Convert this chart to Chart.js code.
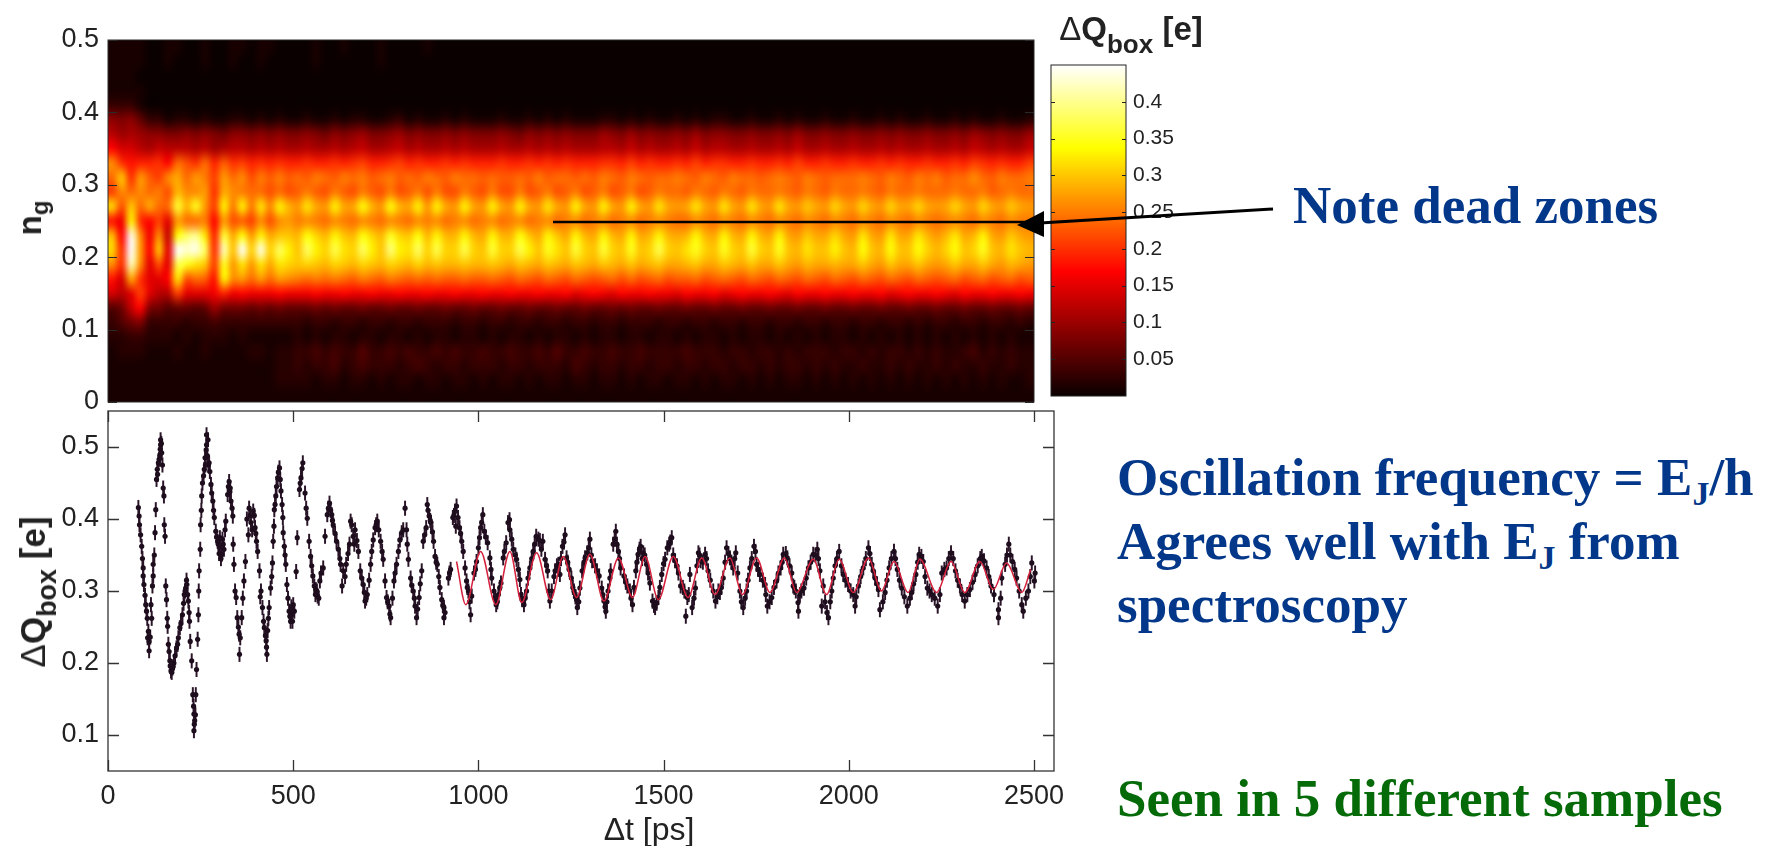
<!DOCTYPE html>
<html>
<head>
<meta charset="utf-8">
<title>Charge oscillations</title>
<script src="https://cdn.jsdelivr.net/npm/chart.js@4/dist/chart.umd.min.js"></script>
<style>
    body { margin: 0; background: #fff; width: 1770px; height: 846px; overflow: hidden; position: relative; }
    canvas { position: absolute; display: block; }
    svg { position: absolute; left: 0; top: 0; }
    .note { position: absolute; font: bold 53px/1 "Liberation Serif", serif; white-space: nowrap; color: #03378a; }
    .note sub { font-size: 64%; line-height: 0; vertical-align: -0.3em; }
    .green { color: #056a08; }
    .axisLabel { position: absolute; font-family: "Liberation Sans", sans-serif; color: #222; white-space: nowrap; transform: translate(-50%, -50%); }
    .axisLabel sub { line-height: 0; }
    .up { transform: translate(-50%, -50%) rotate(-90deg); }
</style>
</head>
<body>
<canvas id="heatChart" width="1040" height="432" style="left:0;top:0"></canvas>
<canvas id="barChart" width="170" height="379" style="left:1041px;top:41px"></canvas>
<canvas id="traceChart" width="1090" height="465" style="left:0;top:381px"></canvas>

<div class="axisLabel up" style="left:30px;top:218px;font-weight:bold;font-size:33px">n<sub style="font-size:24px;vertical-align:-0.3em">g</sub></div>
<div class="axisLabel up" style="left:33px;top:592px;font-size:35px;font-weight:bold"><span style="font-weight:normal">Δ</span>Q<sub style="font-size:27px;vertical-align:-0.4em">box</sub> [e]</div>
<div class="axisLabel" style="left:649px;top:829px;font-size:32px">Δt [ps]</div>
<div class="axisLabel" style="left:1131px;top:29px;font-size:33px;font-weight:bold"><span style="font-weight:normal">Δ</span>Q<sub style="font-size:26px;vertical-align:-0.5em">box</sub> [e]</div>

<div class="note" style="left:1293px;top:179px">Note dead zones</div>
<div class="note" style="left:1117px;top:451px">Oscillation frequency = E<sub>J</sub>/h</div>
<div class="note" style="left:1117px;top:515px">Agrees well with E<sub>J</sub> from</div>
<div class="note" style="left:1117px;top:578px">spectroscopy</div>
<div class="note green" style="left:1117px;top:772px">Seen in 5 different samples</div>

<svg width="1770" height="846">
    <line x1="553" y1="222" x2="1030" y2="222" stroke="#000" stroke-width="2.6"/>
    <line x1="1273" y1="209" x2="1040" y2="223" stroke="#000" stroke-width="3"/>
    <polygon points="1017,225 1044,211 1044,237" fill="#000"/>
</svg>

<script>
// Heatmap axes
const heatColumnTimes = [12.5,37.5,62.5,87.5,112.5,137.5,162.5,187.5,212.5,237.5,262.5,287.5,312.5,337.5,362.5,387.5,412.5,437.5,462.5,487.5,
    512.5,537.5,562.5,587.5,612.5,637.5,662.5,687.5,712.5,737.5,762.5,787.5,812.5,837.5,862.5,887.5,912.5,937.5,962.5,987.5,
    1012.5,1037.5,1062.5,1087.5,1112.5,1137.5,1162.5,1187.5,1212.5,1237.5,1262.5,1287.5,1312.5,1337.5,1362.5,1387.5,1412.5,1437.5,1462.5,1487.5,
    1512.5,1537.5,1562.5,1587.5,1612.5,1637.5,1662.5,1687.5,1712.5,1737.5,1762.5,1787.5,1812.5,1837.5,1862.5,1887.5,1912.5,1937.5,1962.5,1987.5,
    2012.5,2037.5,2062.5,2087.5,2112.5,2137.5,2162.5,2187.5,2212.5,2237.5,2262.5,2287.5,2312.5,2337.5,2362.5,2387.5,2412.5,2437.5,2462.5,2487.5];
const heatRowGates = [0.49,0.47,0.45,0.43,0.41,0.39,0.37,0.35,0.33,0.31,0.29,0.27,0.25,0.23,0.21,0.19,0.17,0.15,0.13,0.11,0.09,0.07,0.05,0.03,0.01];

// Heatmap values in units of 0.01 e, one list per row from top to bottom
const heatRows = [
[1,1,1,1,0,0,1,1,0,0,1,0,0,1,1,0,1,1,0,0, 0,0,1,0,0,1,0,0,0,1,0,0,0,0,1,0,0,0,0,0, 0,0,0,0,0,0,0,0,0,0,0,0,0,0,0,0,0,0,0,0, 0,0,0,0,0,0,0,0,0,0,0,0,0,0,0,0,0,0,0,0, 0,0,0,0,0,0,0,0,0,0,0,0,0,0,0,0,0,0,0,0],
[1,1,1,1,0,0,1,0,0,0,1,0,0,1,0,0,1,0,0,0, 0,0,1,0,0,0,0,0,0,1,0,0,0,0,0,0,0,0,0,0, 0,0,0,0,0,0,0,0,0,0,0,0,0,0,0,0,0,0,0,0, 0,0,0,0,0,0,0,0,0,0,0,0,0,0,0,0,0,0,0,0, 0,0,0,0,0,0,0,0,0,0,0,0,0,0,0,0,0,0,0,0],
[1,1,1,0,0,0,0,0,0,0,0,0,0,0,0,0,0,0,0,0, 0,0,0,0,0,0,0,0,0,0,0,0,0,0,0,0,0,0,0,0, 0,0,0,0,0,0,0,0,0,0,0,0,0,0,0,0,0,0,0,0, 0,0,0,0,0,0,0,0,0,0,0,0,0,0,0,0,0,0,0,0, 0,0,0,0,0,0,0,0,0,0,0,0,0,0,0,0,0,0,0,0],
[1,1,1,1,0,0,0,0,0,0,0,0,0,0,0,0,0,0,0,0, 0,0,0,0,0,0,0,0,0,0,0,0,0,0,0,0,0,0,0,0, 0,0,0,0,0,0,0,0,0,0,0,0,0,0,0,0,0,0,0,0, 0,0,0,0,0,0,0,0,0,0,0,0,0,0,0,0,0,0,0,0, 0,0,0,0,0,0,0,0,0,0,0,0,0,0,0,0,0,0,0,0],
[3,3,3,1,0,0,0,0,0,0,0,0,0,0,0,0,0,0,0,0, 0,0,0,0,0,0,0,0,0,0,0,0,0,0,0,0,0,0,0,0, 0,0,0,0,0,0,0,0,0,0,0,0,0,0,0,0,0,0,0,0, 0,0,0,0,0,0,0,0,0,0,0,0,0,0,0,0,0,0,0,0, 0,0,0,0,0,0,0,0,0,0,0,0,0,0,0,0,0,0,0,0],
[9,8,9,6,3,3,1,2,2,1,2,1,1,2,2,1,2,1,2,1, 1,2,1,1,2,1,2,2,1,1,2,3,1,2,1,1,2,1,2,1, 1,1,2,1,1,2,1,2,1,2,1,1,1,2,2,1,2,1,2,1, 1,2,1,2,1,2,2,1,1,2,1,1,2,1,2,1,1,2,1,1, 2,1,1,2,1,2,1,1,2,1,1,2,1,2,1,1,2,1,1,2],
[12,10,11,10,9,9,8,8,9,8,9,8,7,9,9,8,9,8,9,8, 8,9,8,7,9,8,9,10,8,8,9,10,8,9,8,8,9,8,9,8, 8,8,9,8,7,9,8,9,8,9,8,8,8,10,9,8,10,8,9,8, 8,9,8,10,8,9,9,8,8,9,8,8,9,8,10,8,8,9,8,8, 9,8,8,9,8,9,8,8,9,8,8,9,8,10,9,8,9,8,8,10],
[17,14,14,12,11,13,12,12,12,11,12,10,11,12,12,11,12,11,12,11, 11,12,11,11,12,11,12,13,11,11,12,13,11,12,11,11,12,11,12,11, 11,11,12,11,11,12,11,12,11,12,11,11,11,12,12,11,13,11,12,11, 11,12,11,13,11,12,12,11,11,12,11,11,12,11,13,11,11,12,11,11, 12,11,11,12,11,12,11,11,12,11,11,12,11,13,12,11,12,11,11,13],
[26,20,18,19,19,20,17,24,22,20,24,19,23,20,21,19,20,19,20,19, 19,20,19,19,20,19,20,21,19,19,20,21,19,20,19,19,20,19,20,19, 19,19,20,19,19,20,19,20,19,20,19,19,19,20,20,19,21,19,20,19, 19,20,19,21,19,20,20,19,19,20,19,19,20,19,21,19,19,20,19,19, 20,19,19,20,19,20,19,19,20,19,19,20,19,21,20,19,20,19,19,21],
[24,30,20,27,23,21,26,28,24,27,25,21,27,24,26,22,25,23,25,23, 24,23,25,24,23,25,24,25,23,24,25,23,24,23,25,24,23,25,24,24, 23,24,23,23,24,23,25,23,24,24,23,24,23,25,24,23,25,24,23,24, 24,25,24,23,25,24,23,25,24,24,23,24,25,24,23,25,24,23,24,24, 24,25,24,23,25,24,23,25,24,25,23,24,24,26,24,23,25,24,24,25],
[21,26,24,26,24,25,22,29,26,26,27,20,28,26,25,24,24,22,24,22, 23,25,23,22,25,23,22,25,23,22,25,22,23,25,22,25,22,22,25,23, 22,25,22,22,25,22,23,25,22,23,25,22,23,25,22,23,25,22,23,25, 24,24,23,25,24,23,25,24,23,25,24,24,25,24,23,25,24,23,25,24, 24,25,24,23,25,24,24,25,24,24,24,25,24,24,25,23,24,25,24,24],
[31,22,30,24,28,24,24,36,29,35,27,21,33,25,33,25,32,26,33,29, 27,32,28,27,33,28,28,34,29,27,34,29,28,33,27,33,28,27,33,28, 27,33,28,27,33,28,27,32,28,27,33,28,27,33,28,27,33,28,27,32, 28,27,28,32,28,27,32,28,27,32,28,27,32,28,27,30,28,27,31,28, 27,31,28,27,31,28,28,31,28,27,28,31,28,27,31,28,27,30,28,27],
[18,16,33,20,17,21,15,27,24,24,25,17,27,22,23,21,26,22,26,27, 25,26,25,24,26,25,24,26,25,24,26,25,24,26,25,26,24,25,26,24, 25,26,24,25,26,24,25,26,24,25,26,24,25,26,24,25,26,24,25,26, 25,24,24,26,25,24,26,25,24,26,25,24,26,25,24,26,25,24,26,25, 24,26,25,24,26,25,24,26,25,24,25,26,25,24,26,25,24,26,25,25],
[29,17,44,26,16,26,13,34,38,40,32,19,36,28,34,27,33,28,30,30, 29,34,31,29,33,30,29,34,31,29,35,31,30,34,29,33,29,29,33,29, 28,33,29,29,34,30,28,33,30,28,33,29,28,33,29,28,33,28,29,33, 29,28,29,33,29,28,33,29,28,33,29,28,33,28,27,30,28,28,31,28, 27,32,28,27,32,28,28,32,29,27,29,32,28,29,33,28,27,30,28,27],
[31,20,46,27,17,30,15,45,43,44,38,20,42,30,45,31,44,31,38,33, 30,38,33,31,37,32,31,38,33,30,39,33,32,38,31,37,31,31,37,31, 30,36,31,31,37,33,30,35,32,30,36,31,30,36,31,30,35,30,31,37, 31,30,32,35,31,30,35,31,30,36,31,30,35,30,29,32,30,30,33,30, 29,34,30,29,34,30,30,34,31,29,31,34,30,31,35,30,29,32,30,29],
[26,20,42,26,15,22,15,37,35,32,30,21,35,27,32,27,32,28,32,31, 30,31,30,29,31,30,29,31,30,29,31,30,29,31,29,30,29,29,30,29, 29,30,29,28,30,29,28,30,29,28,30,29,28,30,29,28,30,28,29,30, 28,28,29,30,28,28,30,29,28,30,28,28,30,28,27,29,28,28,29,28, 28,30,28,27,30,28,28,30,28,27,28,30,28,28,30,28,27,29,28,27],
[18,14,28,20,15,15,17,32,22,24,23,18,33,26,27,24,27,24,27,26, 25,24,25,24,25,24,23,25,24,23,25,24,23,24,23,24,23,23,24,23, 23,24,23,22,24,23,22,24,23,22,24,23,22,23,24,22,24,22,23,24, 22,23,23,24,22,23,24,23,22,24,23,22,24,23,22,24,23,22,24,23, 22,24,23,22,24,23,22,24,23,22,23,24,22,23,24,22,23,24,22,23],
[14,12,15,21,15,12,12,21,15,15,15,16,19,16,17,16,16,16,17,16, 16,16,17,16,16,17,16,16,17,16,16,17,16,16,17,16,16,17,16,16, 17,16,16,17,16,16,17,16,16,17,15,16,17,16,15,17,16,16,17,16, 16,15,17,16,16,17,15,16,17,16,16,17,16,15,17,16,16,17,16,16, 17,16,16,17,15,16,17,16,16,17,16,15,17,16,16,17,16,16,17,16],
[5,7,13,17,8,7,5,6,6,5,6,10,7,7,7,6,7,6,7,6, 6,6,7,6,7,6,6,7,6,6,7,6,6,7,6,6,7,6,6,7, 6,6,7,6,6,7,6,6,7,6,6,7,6,6,7,6,7,6,6,7, 6,6,7,6,6,7,6,6,7,6,6,7,6,6,7,6,6,7,6,6, 7,6,6,7,6,6,7,6,6,7,6,6,7,6,6,7,6,6,7,6],
[3,5,7,8,3,3,3,3,2,3,3,4,3,3,3,3,3,3,3,3, 3,2,3,3,2,3,3,2,3,3,2,3,3,2,3,3,3,2,3,3, 2,3,3,2,3,3,2,3,3,2,3,3,2,3,3,2,3,3,3,2, 3,3,2,3,3,2,3,3,2,3,3,2,3,3,2,3,3,2,3,3, 2,3,3,2,3,3,2,3,2,3,3,2,3,3,2,3,3,2,3,2],
[2,2,3,3,2,2,2,1,2,1,2,2,2,1,2,1,1,1,1,1, 2,1,2,1,2,2,1,2,2,1,2,2,1,2,1,2,2,1,2,2, 1,2,1,2,2,1,2,1,2,2,1,2,1,2,2,1,2,2,1,2, 2,1,2,1,2,2,1,2,1,2,2,1,2,1,2,1,2,1,2,2, 1,2,1,2,1,2,1,2,1,2,1,2,1,2,1,2,1,2,1,1],
[1,2,2,2,1,1,1,2,1,1,2,1,1,1,1,2,2,1,2,2, 3,3,4,3,4,3,3,5,3,3,4,3,4,3,3,4,3,4,3,3, 4,3,3,4,3,3,4,3,5,3,3,4,3,3,4,3,3,4,3,3, 3,3,4,3,3,3,2,3,3,2,3,3,2,3,2,3,3,3,2,3, 3,2,3,2,3,3,2,3,2,3,2,2,3,4,2,3,2,3,2,2],
[1,1,1,1,1,1,1,1,1,1,1,1,1,1,1,1,1,1,2,2, 3,2,3,3,4,2,3,4,3,3,3,2,3,4,3,2,3,3,2,3, 3,3,2,3,3,2,3,3,3,2,4,3,2,3,3,2,3,3,2,3, 3,2,3,3,2,3,3,2,3,3,2,3,2,3,3,2,3,2,3,2, 2,3,2,2,3,2,3,2,2,3,2,3,2,2,3,2,2,3,2,2],
[1,1,1,1,1,1,1,1,1,1,1,1,1,1,1,1,1,1,2,2, 2,2,1,2,2,1,2,2,1,2,1,2,2,1,2,2,1,2,2,1, 2,1,2,2,1,2,1,2,2,1,2,2,1,2,2,1,2,1,2,2, 1,2,2,1,2,1,2,2,1,2,1,2,1,2,2,1,2,1,2,1, 2,1,2,1,2,1,2,1,2,1,2,1,2,1,2,1,2,1,1,2],
[1,1,1,1,1,1,1,1,1,1,1,1,1,1,1,1,1,1,1,1, 1,1,1,1,1,1,1,1,1,1,1,1,1,1,1,1,1,1,1,1, 1,1,1,1,1,1,1,1,1,1,1,1,1,1,1,1,1,1,1,1, 1,1,1,1,1,1,1,1,1,1,1,1,1,1,1,1,1,1,1,1, 1,1,1,1,1,1,1,1,1,1,1,1,1,1,1,1,1,1,1,1]
];
const heatYTicks = [0, 0.1, 0.2, 0.3, 0.4, 0.5];

// Colour scale: hot map between these stops (in e)
const hotStops = [0, 0.169, 0.3375, 0.45];
const hotColors = [[10, 0, 0], [255, 0, 0], [255, 255, 0], [255, 255, 255]];
const barTicks = [0.05, 0.1, 0.15, 0.2, 0.25, 0.3, 0.35, 0.4];

// Lower panel: measured points
const timeValues = [82,84,85,88,91,95,95,97,102,104,109,111,111,107,116,120,122,122,127,129,131,133,136,140,142,142,145,147,149,151,152,154,156,158,161,163,167,170,174,178,185,190,194,201,206,210,213,215,217,220,222,226,229,232,232,234,237,239,242,244,246,249,250,253,255,260,262,265,266,266,271,275,278,283,287,291,296,302,307,311,302,318,323,327,330,332,337,338,340,346,349,354,355,361,367,371,379,381,386,392,397,401,404,409,413,417,422,427,429,435,439,444,446,448,449,453,458,463,467,472,473,476,480,483,489,493,496,500,508,511,517,521,526,532,538,543,547,553,557,561,566,572,
    581,586,592,598,604,608,617,622,628,635,632,643,652,655,662,667,676,685,689,694,700,709,716,721,727,736,743,748,752,759,763,772,779,788,793,802,806,811,817,824,829,833,840,847,851,859,862,867,872,879,883,889,896,901,907,907,919,925,931,937,941,949,955,959,964,968,973,979,982,988,995,1003,1009,1012,1016,1025,1031,1036,1042,1048,1054,1061,1067,1075,1084,1085,1094,1103,1112,1118,1123,1130,1139,1148,1156,1162,1174,1180,1187,1193,1198,1207,1216,1220,1227,1234,1238,1245,1251,1258,1265,1267,1274,1280,1288,1294,1301,1307,1315,1326,1333,1339,1344,1350,1357,1364,1371,1378,1384,1393,1402,1409,1416,1425,1431,1438,1445,1454,1463,1470,1477,1486,1495,1504,1515,1522,1531,1540,1546,1556,1564,1560,1571,1577,1586,1594,1600,1612,1620,1634,1640,1652,1661,1670,1679,1688,1695,1706,1715,1724,1733,1744,1751,1760,1774,1780,1792,1805,1816,1823,1834,1846,1857,1864,
    1850,1863,1868,1879,1891,1904,1915,1922,1931,1927,1945,1954,1963,1974,1985,1998,2012,2017,2026,2039,2053,2062,2071,2080,2084,2098,2109,2122,2131,2143,2158,2170,2181,2190,2201,2212,2224,2240,2251,2264,2276,2288,2300,2313,2327,2341,2359,2372,2384,2404,2404,2413,2422,2432,2442,2453,2467,2471,2485,2494,2503,2501];
const chargeValues = [.416,.404,.392,.378,.362,.332,.321,.309,.281,.272,.244,.230,.217,.235,.281,.307,.337,.321,.381,.413,.455,.469,.478,.489,.503,.510,.492,.475,.443,.432,.392,.376,.307,.288,.251,.226,.203,.189,.193,.200,.221,.235,.249,.267,.295,.304,.309,.295,.286,.258,.230,.203,.156,.129,.106,.120,.156,.191,.233,.267,.328,.358,.392,.432,.450,.469,.485,.496,.517,.503,.475,.466,.448,.425,.402,.383,.369,.360,.351,.365,.374,.397,.434,.452,.443,.425,.404,.365,.337,.291,.263,.240,.212,.263,.314,.341,.378,.415,.395,.411,.388,.369,.355,.328,.300,.277,.249,.231,.212,.277,.304,.339,.369,.390,.413,.432,.457,.471,.439,.402,.381,.362,.337,.309,.272,.258,.267,.281,.327,.374,.441,.457,.478,.436,.401,.369,.348,.321,.307,.302,.293,.314,
    .332,.376,.406,.422,.406,.392,.369,.358,.337,.328,.307,.337,.365,.397,.376,.385,.355,.318,.309,.286,.295,.337,.371,.388,.397,.369,.344,.314,.291,.279,.263,.314,.337,.371,.381,.415,.385,.344,.318,.300,.279,.263,.291,.328,.369,.388,.420,.404,.395,.369,.348,.337,.305,.288,.277,.263,.318,.330,.402,.411,.418,.388,.369,.355,.332,.314,.300,.267,.293,.325,.341,.374,.395,.406,.383,.367,.346,.318,.300,.281,.295,.311,.346,.367,.399,.385,.358,.344,.316,.288,.281,.300,.332,.355,.376,.372,.369,.344,.328,.286,.300,.328,.337,.323,.362,.378,.346,.330,.318,.300,.288,.277,.304,.328,.346,.353,.372,.342,.335,.321,.304,.286,.272,.300,.328,.365,.383,.355,.332,.321,.307,.300,.281,.328,.351,.362,.353,.337,.311,.286,.277,.291,.323,.344,.365,.374,.342,.325,.307,.300,.291,.265,.323,.277,.304,.353,.342,.351,.328,.300,.286,.298,.318,.360,.346,.332,.353,.300,.277,.300,.332,.362,.337,.323,.309,.279,.291,.314,.332,.351,.346,.325,.300,.272,
    .307,.284,.295,.304,.332,.351,.358,.328,.307,.279,.263,.300,.335,.355,.323,.309,.295,.279,.307,.332,.360,.337,.318,.302,.274,.298,.332,.355,.330,.304,.279,.298,.323,.351,.341,.304,.295,.279,.325,.332,.353,.328,.307,.286,.302,.323,.348,.332,.307,.274,.263,.318,.337,.365,.341,.318,.281,.272,.300,.339,.325,.314];
// Second pass over the trace, more points between the ones above
const extraPoints = [[93,.345],[100,.294],[106,.262],[114,.236],[118,.262],[125,.350],[134,.462],[138,.483],[141,.497],[144,.505],[160,.262],[165,.216],[168,.196],[172,.187],[176,.195],[181,.210],[188,.226],[197,.255],[204,.283],[208,.300],[212,.315],[219,.270],[231,.140],[233,.115],[236,.128],[245,.300],[252,.412],[258,.460],[263,.475],[268,.488],[270,.510],[273,.478],[280,.436],[285,.412],[293,.375],[298,.365],[300,.352],[305,.345],[309,.372],[313,.358],[316,.385],[325,.445],[329,.438],[335,.415],[343,.300],[352,.250],[357,.235],[364,.290],[375,.400],[384,.405],[389,.385],[395,.405],[399,.380],[411,.292],[420,.258],[425,.238],[428,.222],[431,.245],[433,.262],[442,.320],[451,.420],[455,.445],[460,.465],[465,.455],[470,.420],[478,.350],[486,.290],[491,.265],[495,.278],[498,.258],[503,.272],[519,.450],[524,.470],[535,.415],[550,.335],[560,.295],[564,.300],[569,.290],[575,.325],
    [595,.415],[601,.412],[606,.398],[613,.380],[626,.345],[640,.320],[648,.352],[658,.392],[665,.365],[672,.370],[681,.328],[692,.298],[697,.290],[705,.315],[712,.355],[724,.392],[731,.385],[740,.355],[755,.285],[761,.268],[768,.290],[775,.325],[784,.355],[797,.385],[808,.365],[820,.308],[827,.290],[836,.275],[843,.310],[855,.378],[864,.412],[870,.398],[876,.382],[886,.340],[893,.320],[904,.280],[910,.270],[922,.325],[934,.405],[939,.390],[945,.402],[952,.380],
    [970,.305],[976,.285],[992,.330],[1000,.360],[1006,.388],[1020,.375],[1034,.330],[1045,.290],[1051,.285],[1058,.305],[1070,.355],[1080,.395],[1090,.372],[1100,.350],[1108,.330],[1115,.295],[1126,.290],[1134,.318],[1144,.345],[1152,.365],[1166,.370],[1170,.358],[1184,.335],[1190,.300],[1204,.320],[1212,.335],[1223,.345],[1231,.368],[1241,.340],[1255,.305],[1262,.292],[1271,.285],[1285,.340],[1298,.360],[1305,.350],[1320,.328],[1336,.295],[1342,.278],[1347,.285],[1355,.318],[1368,.372],[1374,.365],[1381,.345],[1398,.312],[1412,.290],[1420,.305],[1428,.340],[1435,.358],[1442,.345],[1449,.350],[1458,.325],[1474,.280],[1481,.283],[1490,.305],[1500,.338],[1510,.360],[1518,.368],[1526,.350],[1536,.335],[1552,.305],[1568,.295],[1582,.290],[1590,.335],[1597,.350],[1606,.340],[1616,.345],[1626,.315],[1645,.292],[1648,.300],[1656,.305],[1666,.340],[1675,.352],[1683,.340],[1692,.345],[1700,.325],[1710,.285],[1720,.290],[1728,.315],[1738,.345],[1748,.355],[1755,.330],[1768,.315],[1776,.295],[1786,.285],[1798,.305],[1810,.325],[1820,.340],[1830,.352],[1840,.335],[1853,.305],[1872,.300],[1885,.318],[1897,.340],[1910,.350],[1918,.345],[1936,.285],[1941,.270],[1950,.285],[1958,.318],[1968,.345],[1980,.335],[1991,.315],[2005,.300],[2020,.292],[2032,.320],[2046,.345],[2057,.352],[2066,.328],[2076,.310],[2092,.285],[2103,.315],[2115,.345],[2126,.345],[2137,.315],[2150,.292],[2165,.290],[2175,.310],[2186,.340],[2196,.348],[2206,.320],[2218,.300],[2232,.290],[2246,.295],[2258,.330],[2270,.345],[2282,.345],[2294,.315],[2306,.295],[2320,.295],[2334,.312],[2348,.335],[2355,.345],[2365,.342],[2378,.320],[2392,.295],[2410,.290],[2427,.350],[2436,.350],[2448,.330],[2460,.300],[2478,.290],[2490,.320]];
const chargeError = 0.010;

// Lower panel: fitted curve, extrema
const fitTimes = [941,966,1006,1047,1085,1117,1157,1195,1229,1265,1301,1339,1378,1416,1450,1486,1526,1566,1603,1639,1679,1713,1751,1787,1826,1859,1904,1940,1974,2012,2053,2088,2122,2160,2192,2237,2276,2313,2354,2390,2426,2467,2491];
const fitCharges = [.341,.281,.355,.281,.355,.284,.353,.288,.348,.291,.351,.286,.346,.291,.348,.288,.348,.291,.346,.295,.346,.295,.346,.298,.346,.298,.344,.295,.344,.298,.346,.300,.341,.298,.344,.298,.341,.298,.341,.302,.339,.298,.330];
const traceXTicks = [0, 500, 1000, 1500, 2000, 2500];
const traceYTicks = [0.1, 0.2, 0.3, 0.4, 0.5];

const tickFont = { family: '"Liberation Sans", sans-serif', size: 27 };

// Turn a value in e into a hot colormap rgb triple
function hotColor(value) {
    let i = 0;
    while (i < hotStops.length - 2 && value > hotStops[i + 1]) i++;
    const f = Math.min(1, Math.max(0, (value - hotStops[i]) / (hotStops[i + 1] - hotStops[i])));
    return hotColors[i].map((c, k) => Math.round(c + (hotColors[i + 1][k] - c) * f));
}

// Paints the heatmap dataset: one pixel per cell, stretched over the scales with smoothing
const heatImage = {
    id: 'heatImage',
    beforeDatasetsDraw(chart) {
        const cols = heatColumnTimes.length;
        const rows = heatRowGates.length;
        const small = document.createElement('canvas');
        small.width = cols;
        small.height = rows;
        const sctx = small.getContext('2d');
        const image = sctx.createImageData(cols, rows);
        chart.data.datasets[0].data.forEach(cell => {
            const rgb = hotColor(cell.v);
            const at = (cell.row * cols + cell.col) * 4;
            image.data[at] = rgb[0];
            image.data[at + 1] = rgb[1];
            image.data[at + 2] = rgb[2];
            image.data[at + 3] = 255;
        });
        sctx.putImageData(image, 0, 0);

        const { x, y } = chart.scales;
        const left = x.getPixelForValue(0);
        const right = x.getPixelForValue(2500);
        const top = y.getPixelForValue(0.5);
        const bottom = y.getPixelForValue(0);
        const ctx = chart.ctx;
        ctx.save();
        ctx.imageSmoothingEnabled = true;
        ctx.imageSmoothingQuality = 'high';
        ctx.drawImage(small, left, top, right - left, bottom - top);
        ctx.restore();
    }
};

// Box around the plot with ticks pointing inward on every side
const boxTicks = {
    id: 'boxTicks',
    afterDatasetsDraw(chart, args, opts) {
        const { ctx, chartArea: a, scales } = chart;
        ctx.save();
        ctx.strokeStyle = opts.color;
        ctx.lineWidth = opts.width;
        ctx.strokeRect(a.left, a.top, a.right - a.left, a.bottom - a.top);
        ctx.beginPath();
        scales.y.ticks.forEach(t => {
            const py = Math.round(scales.y.getPixelForValue(t.value)) + 0.5;
            ctx.moveTo(a.left, py);
            ctx.lineTo(a.left + opts.length, py);
            ctx.moveTo(a.right, py);
            ctx.lineTo(a.right - opts.length, py);
        });
        if (opts.xTicks) {
            scales.x.ticks.forEach(t => {
                const px = Math.round(scales.x.getPixelForValue(t.value)) + 0.5;
                ctx.moveTo(px, a.top);
                ctx.lineTo(px, a.top + opts.length);
                ctx.moveTo(px, a.bottom);
                ctx.lineTo(px, a.bottom - opts.length);
            });
        }
        ctx.stroke();
        ctx.restore();
    }
};

// Top heatmap
const heatCells = [];
heatRows.forEach((row, r) => {
    row.forEach((v, c) => {
        heatCells.push({ x: heatColumnTimes[c], y: heatRowGates[r], v: v / 100, row: r, col: c });
    });
});

new Chart(document.getElementById('heatChart'), {
    type: 'scatter',
    data: { datasets: [{ label: 'ΔQbox', data: heatCells, pointRadius: 0 }] },
    options: {
        responsive: false,
        animation: false,
        layout: { padding: { top: 40, right: 6, bottom: 30 } },
        plugins: {
            legend: { display: false },
            tooltip: { enabled: false },
            boxTicks: { color: '#2a2a2a', width: 1, length: 9, xTicks: false }
        },
        scales: {
            x: { type: 'linear', min: 0, max: 2500, display: false },
            y: {
                type: 'linear', min: 0, max: 0.5,
                afterBuildTicks: s => { s.ticks = heatYTicks.map(v => ({ value: v })); },
                afterFit: s => { s.width = 108; },
                grid: { display: false, drawTicks: false },
                border: { display: false },
                ticks: { font: tickFont, color: '#222', padding: 9, callback: v => String(v) }
            }
        }
    },
    plugins: [heatImage, boxTicks]
});

// Colour bar
new Chart(document.getElementById('barChart'), {
    type: 'bar',
    data: {
        labels: ['ΔQbox'],
        datasets: [{
            data: [[hotStops[0], hotStops[3]]],
            barPercentage: 1,
            categoryPercentage: 1,
            backgroundColor: c => {
                const area = c.chart.chartArea;
                if (!area) return '#000';
                const g = c.chart.ctx.createLinearGradient(0, area.bottom, 0, area.top);
                hotStops.forEach((s, i) => {
                    g.addColorStop(s / hotStops[3], 'rgb(' + hotColors[i].join(',') + ')');
                });
                return g;
            }
        }]
    },
    options: {
        responsive: false,
        animation: false,
        layout: { padding: { left: 10, top: 24, bottom: 24 } },
        plugins: {
            legend: { display: false },
            tooltip: { enabled: false },
            boxTicks: { color: '#222', width: 1, length: 4, xTicks: false }
        },
        scales: {
            x: { display: false },
            y: {
                position: 'right', min: 0, max: 0.45,
                afterBuildTicks: s => { s.ticks = barTicks.map(v => ({ value: v })); },
                afterFit: s => { s.width = 85; },
                grid: { display: false, drawTicks: false },
                border: { display: false },
                ticks: { font: { family: tickFont.family, size: 21 }, color: '#222', padding: 7, callback: v => String(v) }
            }
        }
    },
    plugins: [boxTicks]
});

// Lower trace: error bars, points, fit
const tracePoints = timeValues.map((t, i) => ({ x: t, y: chargeValues[i] }))
    .concat(extraPoints.map(p => ({ x: p[0], y: p[1] })));

new Chart(document.getElementById('traceChart'), {
    type: 'scatter',
    data: {
        datasets: [
            {
                type: 'line',
                label: 'fit',
                data: fitTimes.map((t, i) => ({ x: t, y: fitCharges[i] })),
                borderColor: '#d5203c',
                borderWidth: 1.5,
                pointRadius: 0,
                cubicInterpolationMode: 'monotone',
                order: 1
            },
            {
                label: 'points',
                data: tracePoints,
                pointRadius: 2.6,
                pointBackgroundColor: '#1d0d1d',
                pointBorderWidth: 0,
                order: 2
            },
            {
                type: 'bar',
                label: 'error',
                data: tracePoints.map(p => ({ x: p.x, y: [p.y - chargeError, p.y + chargeError] })),
                backgroundColor: '#2a1428',
                barThickness: 1.3,
                order: 3
            }
        ]
    },
    options: {
        responsive: false,
        animation: false,
        layout: { padding: { top: 30, right: 36 } },
        plugins: {
            legend: { display: false },
            tooltip: { enabled: false },
            boxTicks: { color: '#333', width: 1.3, length: 11, xTicks: true }
        },
        scales: {
            x: {
                type: 'linear', min: 0, max: 2554, offset: false,
                afterBuildTicks: s => { s.ticks = traceXTicks.map(v => ({ value: v })); },
                afterFit: s => { s.height = 75; },
                grid: { display: false, drawTicks: false, offset: false },
                border: { display: false },
                ticks: { font: tickFont, color: '#222', padding: 9, maxRotation: 0, callback: v => String(v) }
            },
            y: {
                type: 'linear', min: 0.05, max: 0.55,
                afterBuildTicks: s => { s.ticks = traceYTicks.map(v => ({ value: v })); },
                afterFit: s => { s.width = 108; },
                grid: { display: false, drawTicks: false },
                border: { display: false },
                ticks: { font: tickFont, color: '#222', padding: 9, callback: v => String(v) }
            }
        }
    },
    plugins: [boxTicks]
});
</script>
</body>
</html>
